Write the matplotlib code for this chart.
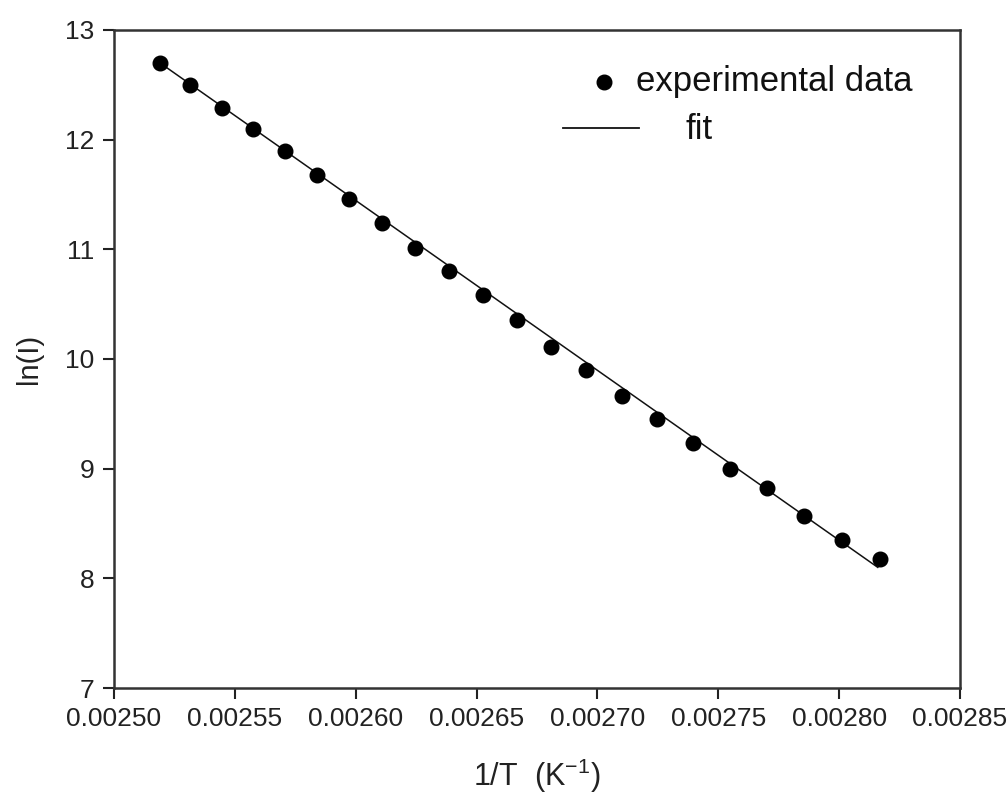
import matplotlib
matplotlib.use('Agg')
import matplotlib.pyplot as plt
from matplotlib.ticker import FormatStrFormatter

plt.rcParams['font.family'] = ['Liberation Sans', 'DejaVu Sans']
plt.rcParams['mathtext.fontset'] = 'custom'
plt.rcParams['mathtext.rm'] = 'Liberation Sans'

# 1/T (K^-1) и ln(I)
inv_t = [0.0025189, 0.0025316, 0.0025445, 0.0025575, 0.0025707, 0.0025840,
         0.0025974, 0.0026110, 0.0026247, 0.0026385, 0.0026525, 0.0026667,
         0.0026810, 0.0026954, 0.0027100, 0.0027248, 0.0027397, 0.0027548,
         0.0027701, 0.0027855, 0.0028011, 0.0028169]
ln_i = [12.70, 12.50, 12.29, 12.10, 11.90, 11.68, 11.46, 11.24, 11.01, 10.80,
        10.58, 10.36, 10.11, 9.90, 9.66, 9.45, 9.23, 9.00, 8.82, 8.57, 8.35, 8.18]

# линия аппроксимации (концы)
fit_x = [0.002519, 0.002816]
fit_y = [12.70, 8.10]

x_ticks = [0.00250, 0.00255, 0.00260, 0.00265, 0.00270, 0.00275, 0.00280, 0.00285]
y_ticks = [7, 8, 9, 10, 11, 12, 13]

fig = plt.figure(figsize=(10.07, 7.99), dpi=100)
ax = fig.add_axes([0.1132, 0.1389, 0.8401, 0.8236])

ax.plot(fit_x, fit_y, color='#111111', linewidth=1.1)
ax.plot(inv_t, ln_i, 'o', color='black', markersize=10.5, linestyle='none')

ax.set_xlim(0.00250, 0.00285)
ax.set_ylim(7, 13)
ax.set_xticks(x_ticks)
ax.set_yticks(y_ticks)
ax.xaxis.set_major_formatter(FormatStrFormatter('%.5f'))
ax.tick_params(direction='out', length=8, width=1.5, labelsize=19,
               colors='#222222', pad=6)
for s in ax.spines.values():
    s.set_linewidth(1.8)
    s.set_color('#333333')

ax.set_xlabel(r'1/T  (K$^{-1}$)', fontsize=22, color='#222222', labelpad=18)
ax.set_ylabel('ln(I)', fontsize=21, color='#222222', labelpad=16)

# легенда вручную
ax.plot([0.579], [0.921], 'o', color='black', markersize=10.5, transform=ax.transAxes)
ax.text(0.617, 0.921, 'experimental data', transform=ax.transAxes,
        fontsize=25, va='center', ha='left', color='#111111')
ax.plot([0.531, 0.620], [0.851, 0.851], color='#111111', linewidth=1.3,
        transform=ax.transAxes)
ax.text(0.676, 0.849, 'fit', transform=ax.transAxes,
        fontsize=25, va='center', ha='left', color='#111111')

plt.savefig('out.png', dpi=100)
